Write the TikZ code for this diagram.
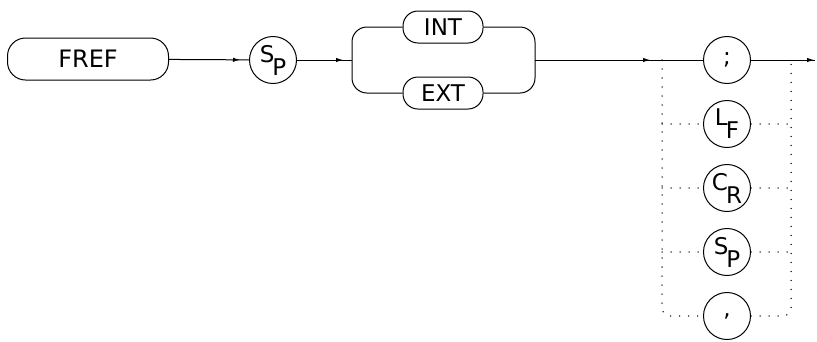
\documentclass[tikz,border=0pt]{standalone}
\usepackage{fontspec}
\usepackage{tikz}
\usetikzlibrary{arrows.meta, calc, decorations.markings}
\newfontfamily\plotfont{DejaVu Sans}
\newcommand{\ctrlchar}[2]{\raisebox{5pt}{#1}\kern-2pt\raisebox{-8pt}{#2}}
\tikzset{
  keyword/.style={rectangle, rounded corners=15pt, draw=black, fill=white,
    minimum width=80pt, minimum height=32pt, inner sep=0pt,
    font=\plotfont\fontsize{23}{23}\selectfont},
  command/.style={keyword, rounded corners=18pt, minimum width=161pt,
    minimum height=42pt, font=\plotfont\fontsize{24}{24}\selectfont},
  char/.style={circle, draw=black, fill=white, minimum size=47pt, inner sep=0pt,
    font=\plotfont\fontsize{23}{23}\selectfont},
  flow/.style={postaction={decorate}, decoration={markings,
    mark=at position #1 with {\arrow{Latex[length=7pt,width=4.5pt]}}}},
  flow/.default=-9pt,
  alt/.style={line width=1.5pt, line cap=round,
    dash pattern=on 0pt off 9pt, rounded corners=8pt}
}
\begin{document}
\begin{tikzpicture}[x=1pt, y=-1pt, line width=1pt]
\useasboundingbox (0,0) rectangle (817,341);
% command and first separator
\node (fref)  [command] at (88,59)   {FREF};
\node (sp1)   [char]    at (273,60)  {\ctrlchar{S}{P}};
% source choice
\node (int)   [keyword] at (443,27)  {INT};
\node (ext)   [keyword] at (443,93)  {EXT};
\coordinate (bl) at (352,60);
\coordinate (br) at (535,60);
% terminators
\coordinate (jl) at (662,60);
\coordinate (jr) at (791,60);
\coordinate (out) at (815,60);
\node (semi)  [char]    at (727,60)  {;};
\node (lf)    [char]    at (727,124) {\ctrlchar{L}{F}};
\node (cr)    [char]    at (727,188) {\ctrlchar{C}{R}};
\node (sp2)   [char]    at (727,252) {\ctrlchar{S}{P}};
\node (comma) [char]    at (727,316) {,};

\draw [flow] (fref) -- (sp1);
\draw [flow] (sp1)  -- (bl);
\draw [rounded corners=15pt] (bl) |- (int.west);
\draw [rounded corners=15pt] (bl) |- (ext.west);
\draw [rounded corners=15pt] (int.east) -| (br);
\draw [rounded corners=15pt] (ext.east) -| (br);
\draw [flow=-12pt] (br) -- (jl);
\draw (jl) -- (semi);
\draw [flow=-1pt] (semi) -- (out);
\draw [alt] (jl) |- (comma.west);
\draw [alt] (comma.east) -| (jr);
\foreach \c in {lf, cr, sp2} {
  \draw [alt] (jl |- \c) -- (\c.west);
  \draw [alt] (\c.east) -- (jr |- \c);
}
\end{tikzpicture}
\end{document}
